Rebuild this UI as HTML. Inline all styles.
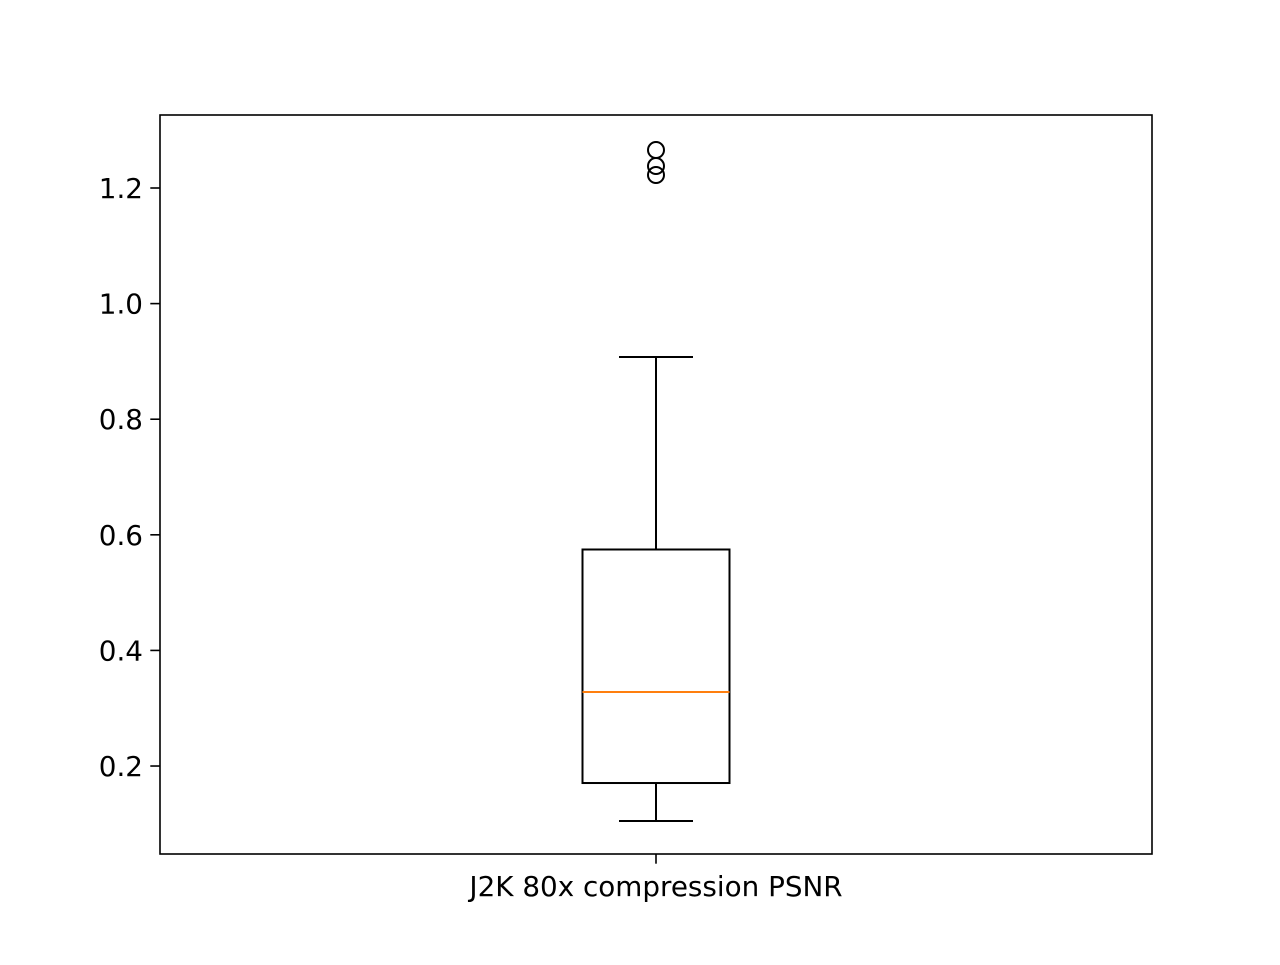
<!DOCTYPE html>
<html><head><meta charset="utf-8"><style>
html,body{margin:0;padding:0;background:#fff;}
svg text{font-family:"DejaVu Sans","Liberation Sans",sans-serif;font-size:27.8px;fill:#000;}
</style></head><body>
<svg id="chart" width="1280" height="960" xmlns="http://www.w3.org/2000/svg">
<rect width="1280" height="960" fill="#fff"/>
<g id="plot"></g>
</svg>
<script>
const categories = ["J2K 80x compression PSNR"];
const whiskerLow = [0.1048];
const q1 = [0.1706];
const median = [0.328];
const q3 = [0.5746];
const whiskerHigh = [0.9076];
const outliers = [[1.2657, 1.238, 1.2225]];
const yTicks = [0.2, 0.4, 0.6, 0.8, 1.0, 1.2];
const yTickLabels = ["0.2", "0.4", "0.6", "0.8", "1.0", "1.2"];

const L=160,R=1152,T=115,B=854, yMin=0.0478, yMax=1.3263;
const y = v => B - (v - yMin)/(yMax - yMin)*(B - T);
const x = i => L + (i + 0.5)*(R - L)/categories.length;
const NS="http://www.w3.org/2000/svg";
const g=document.getElementById('plot');
function mk(tag, attrs, parent){const e=document.createElementNS(NS,tag);for(const k in attrs)e.setAttribute(k,attrs[k]);(parent||g).appendChild(e);return e;}

yTicks.forEach((t,i)=>{
  const tk=mk('line',{x1:L-9.7,x2:L,y1:y(t),y2:y(t),stroke:'#000','stroke-width':1.6});
  
  
  const lb=mk('text',{x:L-17,y:y(t)+10,'text-anchor':'end'});
  lb.textContent=yTickLabels[i];
  
  
});

categories.forEach((c,i)=>{
  const cx=x(i), hw=73.5, cw=37;
  const grp=mk('g',{});
  
  
  const s={stroke:'#000','stroke-width':2,fill:'none'};
  mk('line',Object.assign({x1:cx,x2:cx,y1:y(q1[i]),y2:y(whiskerLow[i])},s),grp);
  mk('line',Object.assign({x1:cx,x2:cx,y1:y(q3[i]),y2:y(whiskerHigh[i])},s),grp);
  mk('line',Object.assign({x1:cx-cw,x2:cx+cw,y1:y(whiskerLow[i]),y2:y(whiskerLow[i])},s),grp);
  mk('line',Object.assign({x1:cx-cw,x2:cx+cw,y1:y(whiskerHigh[i]),y2:y(whiskerHigh[i])},s),grp);
  mk('rect',Object.assign({x:cx-hw,y:y(q3[i]),width:2*hw,height:y(q1[i])-y(q3[i])},s),grp);
  const md=mk('line',{x1:cx-hw,x2:cx+hw,y1:y(median[i]),y2:y(median[i]),stroke:'#ff7f0e','stroke-width':2},grp);
  
  
  outliers[i].forEach(v=>{
    const o=mk('circle',{cx:cx,cy:y(v),r:8,stroke:'#000','stroke-width':2,fill:'none'},grp);
    
    
  });
  const tk=mk('line',{x1:cx,x2:cx,y1:B,y2:B+9.7,stroke:'#000','stroke-width':1.6});
  
  
  const lb=mk('text',{x:cx,y:B+42,'text-anchor':'middle'});
  lb.textContent=c;
  
  
});

const fr=mk('rect',{x:L,y:T,width:R-L,height:B-T,fill:'none',stroke:'#000','stroke-width':1.6});


</script>
</body></html>
